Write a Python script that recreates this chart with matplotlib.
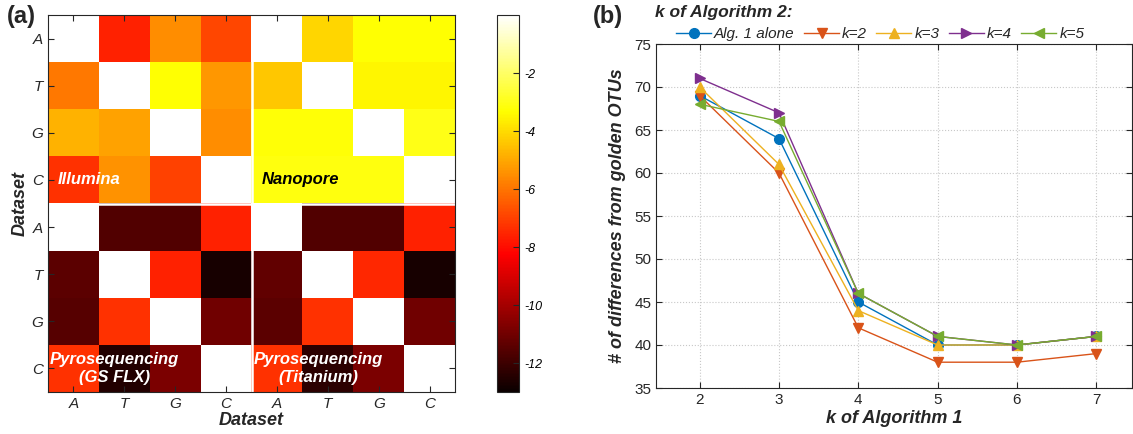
import matplotlib
matplotlib.use("Agg")
import matplotlib.pyplot as plt
import numpy as np

plt.rcParams['font.family'] = ['Liberation Sans', 'DejaVu Sans']
plt.rcParams['axes.unicode_minus'] = False

# panel (a): log-scale differences between datasets
bases = ['A', 'T', 'G', 'C', 'A', 'T', 'G', 'C']
heat = [
    [0.0, -7.6, -5.5, -6.9, 0.0, -4.1, -3.3, -3.3],
    [-5.9, 0.0, -3.3, -5.3, -4.4, 0.0, -3.5, -3.5],
    [-4.8, -5.1, 0.0, -5.5, -3.2, -3.2, 0.0, -3.0],
    [-7.3, -5.4, -7.0, 0.0, -3.1, -3.1, -3.1, 0.0],
    [0.0, -11.6, -11.6, -7.6, 0.0, -11.6, -11.6, -7.6],
    [-11.4, 0.0, -7.6, -12.7, -11.3, 0.0, -7.5, -12.7],
    [-11.5, -7.3, 0.0, -11.0, -11.4, -7.3, 0.0, -11.0],
    [-7.3, -12.5, -10.8, 0.0, -7.3, -12.3, -10.8, 0.0],
]
cbar_ticks = [-2, -4, -6, -8, -10, -12]

# panel (b)
k_alg1 = [2, 3, 4, 5, 6, 7]
alg1_alone = [69, 64, 45, 40, 40, 41]
k2 = [69, 60, 42, 38, 38, 39]
k3 = [70, 61, 44, 40, 40, 41]
k4 = [71, 67, 46, 41, 40, 41]
k5 = [68, 66, 46, 41, 40, 41]
series = [('Alg. 1 alone', alg1_alone, '#0072BD', 'o'),
          ('k=2', k2, '#D95319', 'v'),
          ('k=3', k3, '#EDB120', '^'),
          ('k=4', k4, '#7E2F8E', '>'),
          ('k=5', k5, '#77AC30', '<')]

W, H = 1133, 434
fig = plt.figure(figsize=(W / 100, H / 100), dpi=100)

# ---- heatmap ----
ax1 = fig.add_axes([48 / W, 1 - 392 / H, 407 / W, 377 / H])
im = ax1.imshow(np.array(heat), cmap='hot', vmin=-13, vmax=0, aspect='auto',
                interpolation='nearest')
ax1.axhline(3.5, color='white', lw=1.8)
ax1.axvline(3.5, color='white', lw=1.8)
ax1.set_xticks(range(8))
ax1.set_yticks(range(8))
ax1.set_xticklabels(bases, fontstyle='italic', fontsize=11, color='#262626')
ax1.set_yticklabels(bases, fontstyle='italic', fontsize=11, color='#262626')
ax1.tick_params(direction='in', top=True, right=True, length=4, width=0.8,
                color='#262626')
ax1.set_xlabel('Dataset', fontsize=13, fontweight='bold', fontstyle='italic',
               color='#262626', labelpad=1)
ax1.set_ylabel('Dataset', fontsize=13, fontweight='bold', fontstyle='italic',
               color='#262626', labelpad=2)
for s in ax1.spines.values():
    s.set_color('#262626')

tkw = dict(fontsize=12, fontweight='bold', fontstyle='italic')
ax1.text(-0.3, 3.0, 'Illumina', color='white', va='center', ha='left', **tkw)
ax1.text(3.7, 3.0, 'Nanopore', color='black', va='center', ha='left', **tkw)
ax1.text(0.8, 7.0, 'Pyrosequencing\n(GS FLX)', color='white', va='center',
         ha='center', linespacing=1.2, **tkw)
ax1.text(4.82, 7.0, 'Pyrosequencing\n(Titanium)', color='white', va='center',
         ha='center', linespacing=1.2, **tkw)

cax = fig.add_axes([497 / W, 1 - 392 / H, 22 / W, 377 / H])
cb = fig.colorbar(im, cax=cax, ticks=cbar_ticks)
cb.ax.tick_params(direction='in', length=4, labelsize=9, color='#262626')
for t in cb.ax.get_yticklabels():
    t.set_fontstyle('italic')
cb.outline.set_edgecolor('#262626')

fig.text(7 / W, 1 - 16 / H, '(a)', fontsize=17, fontweight='bold', va='center',
         color='#262626')

# ---- line plot ----
ax2 = fig.add_axes([656 / W, 1 - 388 / H, 476 / W, 344 / H])
handles = []
for name, vals, col, mk in series:
    h, = ax2.plot(k_alg1, vals, color=col, marker=mk, markersize=7, lw=1.0,
                  label=name)
    handles.append(h)
ax2.set_xlim(1.45, 7.45)
ax2.set_ylim(35, 75)
ax2.set_xticks(k_alg1)
ax2.set_yticks(range(35, 76, 5))
ax2.grid(True, linestyle=':', color='#c8c8c8', lw=0.8)
ax2.tick_params(direction='in', top=True, right=True, length=4, labelsize=11,
                colors='#262626')
for s in ax2.spines.values():
    s.set_color('#262626')
ax2.set_xlabel('k of Algorithm 1', fontsize=13, fontweight='bold',
               fontstyle='italic', color='#262626', labelpad=2)
ax2.set_ylabel('# of differences from golden OTUs', fontsize=13,
               fontweight='bold', fontstyle='italic', color='#262626',
               labelpad=6)

leg = fig.legend(handles=handles, loc='center left', ncol=5, frameon=False,
                 bbox_to_anchor=(676 / W, 1 - 34 / H), handlelength=2.3,
                 columnspacing=0.6, handletextpad=0.2, borderaxespad=0,
                 borderpad=0, prop=dict(style='italic', size=11))
for t in leg.get_texts():
    t.set_color('#262626')

fig.text(655 / W, 1 - 13 / H, 'k of Algorithm 2:', fontsize=12.5,
         fontweight='bold', fontstyle='italic', va='center', color='#262626')
fig.text(593 / W, 1 - 16 / H, '(b)', fontsize=17, fontweight='bold',
         va='center', color='#262626')

fig.savefig('out.png', dpi=100)
